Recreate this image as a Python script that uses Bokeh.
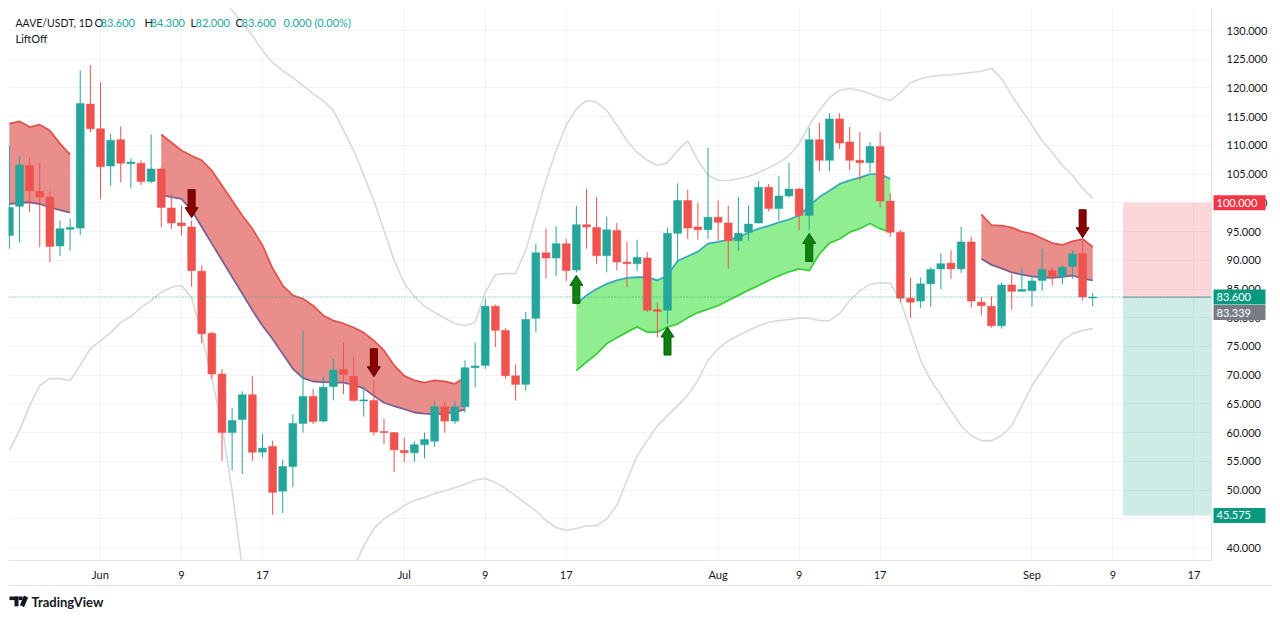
import numpy as np
import pandas as pd
from bokeh.plotting import figure
from bokeh.models import (Range1d, FixedTicker, SingleIntervalTicker, PrintfTickFormatter,
                          Label, Span, BoxAnnotation)
from bokeh.embed import file_html
from bokeh.resources import INLINE
from bokeh.core.properties import value

# ---------------- data ----------------
first_day = "2022-05-23"
opens = [94.3, 99.4, 106.5, 102.0, 101.0, 92.5, 95.4, 95.6, 117.2, 112.9,
         106.4, 111.0, 106.8, 106.9, 103.7, 105.9, 99.1, 96.5, 95.8, 88.1,
         77.3, 70.2, 60.0, 62.3, 66.6, 56.6, 57.6, 49.8, 54.1, 61.6,
         66.3, 62.0, 68.0, 71.0, 69.8, 65.5, 65.6, 60.2, 60.0, 56.9,
         56.5, 57.9, 58.5, 64.5, 62.0, 64.5, 71.3, 71.7, 82.0, 77.8,
         69.9, 68.4, 79.9, 91.3, 90.4, 92.9, 88.3, 96.2, 95.7, 90.8,
         95.2, 89.7, 89.4, 90.4, 81.4, 81.3, 94.7, 100.4, 95.8, 95.3,
         97.5, 96.5, 93.4, 94.9, 96.5, 102.7, 99.0, 101.2, 102.4, 97.8,
         111.0, 107.4, 114.6, 110.6, 107.4, 107.0, 109.8, 100.3, 94.9, 83.4,
         82.9, 85.9, 88.5, 89.5, 88.5, 93.2, 82.7, 82.0, 78.6, 85.7,
         84.6, 84.7, 86.5, 88.2, 87.2, 88.9, 91.2, 83.6]
highs = [110.0, 108.2, 107.9, 107.0, 102.1, 96.9, 97.2, 123.0, 124.0, 121.0,
         112.0, 113.3, 107.7, 107.4, 111.9, 106.2, 101.6, 99.5, 96.9, 89.1,
         77.6, 71.1, 64.3, 67.2, 69.8, 59.8, 58.6, 55.3, 63.2, 77.9,
         67.6, 69.8, 72.8, 75.7, 73.2, 67.8, 69.2, 62.4, 60.1, 59.1,
         58.5, 60.0, 65.5, 65.3, 65.5, 72.6, 75.7, 83.3, 82.3, 78.2,
         71.9, 81.0, 92.9, 95.5, 95.9, 93.7, 99.5, 102.4, 101.0, 97.6,
         96.5, 93.2, 93.6, 91.4, 82.7, 95.7, 103.4, 102.3, 100.0, 109.6,
         100.4, 99.5, 101.0, 99.5, 103.8, 103.3, 104.6, 106.9, 102.6, 113.1,
         113.9, 115.6, 115.6, 113.2, 112.3, 110.6, 112.3, 101.7, 95.3, 86.9,
         87.0, 88.8, 91.2, 91.8, 95.8, 94.1, 83.6, 83.7, 86.2, 87.6,
         88.8, 87.3, 92.0, 88.7, 89.1, 91.7, 93.4, 84.3]
lows = [92.0, 93.1, 98.4, 92.3, 89.7, 90.7, 91.7, 94.4, 112.3, 100.7,
        103.0, 103.6, 102.5, 103.1, 103.4, 95.8, 95.5, 94.3, 85.4, 75.6,
        69.4, 55.1, 53.4, 52.8, 55.1, 55.7, 45.7, 46.0, 50.5, 60.0,
        61.5, 61.8, 65.6, 66.7, 65.4, 62.8, 59.5, 58.0, 53.1, 54.9,
        54.9, 55.5, 57.5, 60.0, 61.5, 63.5, 67.9, 71.1, 74.9, 69.4,
        65.6, 67.3, 77.5, 86.8, 87.3, 86.4, 87.9, 92.0, 89.4, 87.9,
        88.2, 85.3, 88.1, 81.0, 76.6, 78.9, 89.9, 93.7, 93.6, 93.7,
        93.4, 88.5, 91.6, 93.4, 96.4, 98.5, 96.9, 100.9, 95.2, 95.2,
        105.5, 105.5, 109.4, 105.7, 103.9, 105.3, 99.2, 94.1, 82.7, 80.0,
        81.7, 81.9, 85.0, 86.8, 87.8, 81.8, 80.4, 78.3, 78.1, 81.4,
        84.5, 82.0, 84.7, 85.6, 85.8, 86.8, 83.0, 82.0]
closes = [99.2, 106.6, 102.1, 101.0, 92.4, 95.5, 95.7, 117.3, 112.9, 106.3,
          110.9, 106.9, 107.1, 103.7, 105.9, 99.2, 96.5, 96.0, 88.2, 77.2,
          70.2, 60.0, 62.1, 66.6, 56.6, 57.3, 49.6, 54.1, 61.6, 66.3,
          61.9, 67.9, 70.9, 70.1, 65.6, 65.7, 60.1, 60.0, 57.0, 56.5,
          57.9, 58.8, 64.5, 62.0, 64.5, 71.3, 71.6, 82.0, 77.8, 69.9,
          68.4, 79.7, 91.3, 90.4, 92.9, 88.2, 96.2, 95.8, 90.8, 95.3,
          89.7, 89.4, 90.5, 81.3, 81.1, 94.7, 100.4, 95.6, 95.3, 97.5,
          96.6, 93.4, 94.7, 96.3, 102.7, 99.0, 101.2, 102.4, 97.8, 111.0,
          107.4, 114.6, 110.4, 107.4, 107.0, 109.8, 100.3, 94.9, 83.4, 82.7,
          85.9, 88.4, 89.4, 88.5, 93.2, 82.9, 82.1, 78.6, 85.7, 84.6,
          84.9, 86.4, 88.4, 87.2, 88.8, 91.1, 83.6, 83.6]

N = None
bb_upper = [N, N, N, N, N, N, N, N, N, N,
            N, N, N, N, N, N, N, N, N, N,
            N, 135.5, 133.5, 131.4, 129.1, 126.5, 124.4, 123.0, 121.8, 120.4,
            119.0, 117.8, 116.1, 112.6, 109.1, 104.8, 100.4, 95.2, 90.0, 86.0,
            83.7, 82.0, 80.9, 79.9, 79.0, 78.6, 79.2, 84.4, 87.5, 87.7,
            87.7, 91.7, 97.8, 103.9, 109.1, 113.5, 116.4, 117.8, 117.5, 116.1,
            113.5, 110.8, 108.8, 107.4, 106.5, 107.0, 109.1, 110.8, 107.4, 104.8,
            103.9, 103.9, 104.2, 104.6, 105.3, 106.1, 107.0, 108.2, 110.3, 113.5,
            116.1, 118.3, 119.6, 119.9, 119.6, 119.0, 118.3, 117.8, 119.2, 120.9,
            121.6, 122.0, 122.2, 122.3, 122.5, 122.7, 122.9, 123.4, 121.6, 118.7,
            116.1, 113.5, 110.8, 108.8, 106.5, 104.8, 102.5, 100.8]
bb_lower = [56.9, 60.4, 64.7, 68.2, 69.4, 69.4, 69.1, 71.7, 74.6, 76.0,
            77.4, 79.2, 80.2, 81.8, 83.0, 84.4, 85.3, 85.6, 83.5, 76.9,
            69.4, 61.2, 49.9, 36.5, N, N, N, N, N, N,
            N, N, N, N, 36.5, 40.3, 43.3, 45.0, 46.1, 47.3,
            48.2, 48.7, 49.4, 49.9, 50.4, 51.0, 51.7, 52.0, 51.3, 50.3,
            49.0, 47.7, 46.4, 44.7, 43.5, 43.0, 43.3, 43.8, 43.8, 45.0,
            47.3, 51.7, 56.0, 58.6, 61.2, 63.0, 64.7, 66.5, 69.1, 72.6,
            74.6, 76.0, 76.9, 77.8, 78.6, 79.2, 79.5, 79.7, 79.9, 79.9,
            79.5, 79.5, 80.7, 83.0, 84.7, 85.8, 86.1, 86.0, 83.0, 77.8,
            72.6, 69.1, 66.5, 63.8, 61.2, 59.5, 58.6, 58.6, 59.5, 61.2,
            64.7, 68.2, 70.8, 73.4, 76.0, 77.2, 77.8, 78.1]

# LiftOff ribbons: (first day, upper edge, lower edge)
red1_start = "2022-05-23"
red1_top = [113.8, 114.2, 113.2, 113.6, 112.6, 110.3, 108.4]
red1_bot = [99.8, 100.0, 100.1, 99.8, 99.2, 98.75, 98.3]
red2_start = "2022-06-07"
red2_top = [111.9, 110.5, 109.1, 108.2, 107.4, 105.6, 103.0, 100.4, 97.8, 95.5,
            92.6, 88.6, 85.6, 83.9, 83.3, 82.1, 80.4, 79.5, 79.0, 78.3,
            77.4, 76.0, 74.3, 71.7, 69.9, 69.1, 68.7, 69.1, 68.9, 68.5, 69.6]
red2_bot = [101.4, 101.0, 100.7, 98.7, 95.8, 92.9, 90.0, 87.1, 84.2, 81.3,
            78.6, 76.3, 73.7, 71.1, 69.5, 68.9, 68.8, 68.7, 68.7, 68.3,
            67.7, 66.4, 65.2, 64.6, 64.1, 63.5, 63.3, 63.2, 63.3, 63.6, 64.0]
green_start = "2022-07-18"
green_top = [82.4, 83.9, 85.0, 85.9, 86.5, 86.95, 87.05, 87.05, 86.5, 87.35,
             89.9, 90.7, 91.5, 92.9, 93.2, 93.6, 94.0, 94.8, 95.5, 96.0,
             96.6, 97.1, 97.8, 99.5, 101.0, 102.1, 103.3, 103.9, 104.4, 105.0,
             105.0, 104.2]
green_bot = [70.8, 72.3, 73.7, 75.5, 76.5, 77.5, 78.4, 77.5, 77.5, 78.4,
             78.9, 80.0, 80.9, 81.5, 82.1, 83.0, 83.9, 84.8, 85.6, 86.5,
             87.3, 88.0, 88.5, 88.2, 91.1, 93.0, 93.7, 94.9, 95.5, 96.4,
             95.5, 94.9]
red3_start = "2022-08-27"
red3_top = [98.0, 96.1, 96.05, 95.7, 95.0, 94.6, 93.8, 93.0, 92.7, 93.3, 93.7, 92.3]
red3_bot = [90.25, 89.2, 88.6, 87.9, 87.5, 87.2, 87.0, 86.95, 87.1, 87.35, 86.8, 86.5]

down_signals = ["2022-06-10", "2022-06-28", "2022-09-06"]
up_signals = ["2022-07-18", "2022-07-27", "2022-08-10"]

tick_dates = ["2022-06-01", "2022-06-09", "2022-06-17", "2022-07-01", "2022-07-09",
              "2022-07-17", "2022-08-01", "2022-08-09", "2022-08-17", "2022-09-01",
              "2022-09-09", "2022-09-17"]
tick_labels = ["Jun", "9", "17", "Jul", "9", "17", "Aug", "9", "17", "Sep", "9", "17"]

symbol = "AAVE/USDT, 1D"
indicator_name = "LiftOff"
hdr_o, hdr_h, hdr_l, hdr_c = "83.600", "84.300", "82.000", "83.600"
hdr_change = "0.000 (0.00%)"
brand = "TradingView"
last_price = 83.600
position_start = "2022-09-10"
stop_price = 100.000
entry_price = 83.600
target_price = 45.575
avg_price = 83.339

# ---------------- helpers ----------------
REF = pd.Timestamp("2022-06-01")


def day(s):
    return (pd.Timestamp(s) - REF).days


def run(start, n):
    d0 = day(start)
    return [d0 + i for i in range(n)]


o = np.array(opens); h = np.array(highs); l = np.array(lows); c = np.array(closes)
xs = np.array(run(first_day, len(opens)), dtype=float)

UP = "#26a69a"
DN = "#ef5350"
TXT = "#131722"
FONT = "Lato"

LEFT_PAD, TOP_PAD = 8, 8          # frame origin on the page
FW, FH = 1203, 552
X0, X1 = -9.086, 109.73
Y0, Y1 = 37.74, 133.83
PXX = FW / (X1 - X0)
PXY = FH / (Y1 - Y0)


def page_x(px):   # page pixel -> data x
    return X0 + (px - LEFT_PAD) / PXX


def page_y(py):   # page pixel -> data y
    return Y1 - (py - TOP_PAD) / PXY


p = figure(frame_width=FW, frame_height=FH, x_range=Range1d(X0, X1), y_range=Range1d(Y0, Y1),
           output_backend="svg", toolbar_location=None, y_axis_location="right",
           min_border_left=LEFT_PAD, min_border_top=TOP_PAD, min_border_right=61,
           min_border_bottom=49, background_fill_color="white", border_fill_color="white",
           outline_line_color=None)

tick_x = [float(day(t)) for t in tick_dates]
p.xaxis.ticker = FixedTicker(ticks=tick_x)
p.xaxis.major_label_overrides = {tx: lab for tx, lab in zip(tick_x, tick_labels)}
p.xgrid.ticker = FixedTicker(ticks=tick_x)
p.yaxis.ticker = SingleIntervalTicker(interval=5)
p.ygrid.ticker = SingleIntervalTicker(interval=5)
p.yaxis.formatter = PrintfTickFormatter(format="%.3f")
for ax in (p.xaxis[0], p.yaxis[0]):
    ax.major_tick_line_color = None
    ax.minor_tick_line_color = None
    ax.major_tick_out = 0
    ax.major_tick_in = 0
    ax.axis_line_color = "#e0e3eb"
    ax.major_label_text_font = FONT
    ax.major_label_text_font_size = "11px"
    ax.major_label_text_color = TXT
p.xaxis.major_label_standoff = 7
p.yaxis.major_label_standoff = 11
p.xgrid.grid_line_color = "#f0f3fa"
p.ygrid.grid_line_color = "#f0f3fa"

# Bollinger-style envelopes
up_arr = np.array([np.nan if v is None else v for v in bb_upper], dtype=float)
lo_arr = np.array([np.nan if v is None else v for v in bb_lower], dtype=float)
p.line(xs, up_arr, line_color="#d9d9d9", line_width=1.6)
p.line(xs, lo_arr, line_color="#d9d9d9", line_width=1.6)

# LiftOff ribbons
RED_FILL = "#ea8e8b"
for start, top, bot in ((red1_start, red1_top, red1_bot), (red2_start, red2_top, red2_bot),
                        (red3_start, red3_top, red3_bot)):
    bx = run(start, len(top))
    p.varea(x=bx, y1=bot, y2=top, fill_color=RED_FILL, fill_alpha=1.0)
    p.line(bx, top, line_color="#e0534f", line_width=1.8)
    p.line(bx, bot, line_color="#7a6296", line_width=1.8)
gx = run(green_start, len(green_top))
p.varea(x=gx, y1=green_bot, y2=green_top, fill_color="#90ee90", fill_alpha=1.0)
p.line(gx, green_top, line_color="#3aa9c0", line_width=1.8)
p.line(gx, green_bot, line_color="#3fcc3f", line_width=1.8)

# position tool (drawn under the candles)
ps = float(day(position_start))
p.add_layout(BoxAnnotation(left=ps, bottom=entry_price, top=stop_price, fill_color="#f23645",
                           fill_alpha=0.2, line_color=None, level="underlay"))
p.add_layout(BoxAnnotation(left=ps, bottom=target_price, top=entry_price, fill_color="#089981",
                           fill_alpha=0.2, line_color=None, level="underlay"))
p.segment([ps], [entry_price], [X1], [entry_price], line_color="#9aa0ab", line_width=1.2)

# candles
inc = c >= o
cols = np.where(inc, UP, DN)
p.segment(xs, h, xs, l, line_color=list(cols), line_width=1)
body_top = np.maximum(o, c)
body_bot = np.minimum(o, c)
body_bot = np.where(body_top - body_bot < 1.0 / PXY, body_top - 1.0 / PXY, body_bot)
p.vbar(x=xs, width=0.78, top=body_top, bottom=body_bot, fill_color=list(cols), line_color=list(cols),
       line_width=0.5)

# signal arrows (tip just beyond the candle extreme)
shape = [(0, 0), (6.5, 10), (3.5, 10), (3.5, 28), (-3.5, 28), (-3.5, 10), (-6.5, 10)]
ax_list, ay_list = [], []
for s in down_signals:
    i = list(xs).index(float(day(s)))
    tip = h[i] + 3 / PXY
    ax_list.append([xs[i] + dx / PXX for dx, dy in shape])
    ay_list.append([tip + dy / PXY for dx, dy in shape])
p.patches(ax_list, ay_list, fill_color="#8b0000", line_color="#5c0000", line_width=1)
gx_list, gy_list = [], []
for s in up_signals:
    i = list(xs).index(float(day(s)))
    tip = l[i] - 3 / PXY
    gx_list.append([xs[i] + dx / PXX for dx, dy in shape])
    gy_list.append([tip - dy / PXY for dx, dy in shape])
p.patches(gx_list, gy_list, fill_color="#0d800d", line_color="#086008", line_width=1)

# last price line
p.add_layout(Span(location=last_price, dimension="width", line_color=UP, line_width=1,
                  line_dash="1 2"))


# header texts (inside the frame)
def scr_label(px, py, text, color=TXT, size="11px"):
    p.add_layout(Label(x=px - LEFT_PAD, y=FH - (py - TOP_PAD), x_units="screen", y_units="screen",
                       text=text, text_color=color, text_font=FONT, text_font_size=size,
                       text_baseline="middle", text_align="left"))


scr_label(15, 22, symbol, size="10.5px")
scr_label(94, 22, "O"); scr_label(100, 22, hdr_o, UP)
scr_label(144, 22, "H"); scr_label(150, 22, hdr_h, UP)
scr_label(190, 22, "L"); scr_label(195, 22, hdr_l, UP)
scr_label(235, 22, "C"); scr_label(241, 22, hdr_c, UP)
scr_label(283, 22, hdr_change, UP)
scr_label(15, 38, indicator_name)

# price tags on the right scale (overlay level so they can sit on the scale)
tag_prices = [stop_price, last_price, last_price - 15.5 / PXY, target_price]
tag_texts = ["%.3f" % stop_price, "%.3f" % last_price, "%.3f" % avg_price, "%.3f" % target_price]
tag_cols = ["#f23645", "#089981", "#787b86", "#089981"]
tag_cx = page_x(1239)
p.rect(x=[tag_cx] * 4, y=tag_prices, width=52, height=15, width_units="screen",
       height_units="screen", fill_color=tag_cols, line_color=None, level="overlay")
p.text(x=[page_x(1216)] * 4, y=tag_prices, text=tag_texts, text_color="white",
       text_font=value(FONT), text_font_size="11px", text_baseline="middle", text_align="left",
       level="overlay")

# bottom border of the time scale
p.rect(x=[page_x(640)], y=[page_y(585)], width=1264, height=1, width_units="screen",
       height_units="screen", fill_color="#e0e3eb", line_color=None, level="overlay")

# TradingView brand mark (built from small blocks) + name below the time scale
mk_x = [page_x(13.5), page_x(16), page_x(20.3), page_x(23.5)]
mk_y = [page_y(597.8), page_y(601), page_y(597.8), page_y(600.8)]
mk_w = [9, 4, 3.6, 4.6]
mk_h = [3.6, 9.6, 3.6, 10.4]
mk_a = [0.0, 0.0, 0.0, -0.4]
p.rect(x=mk_x, y=mk_y, width=mk_w, height=mk_h, angle=mk_a, width_units="screen",
       height_units="screen", fill_color=TXT, line_color=None, level="overlay")
p.text(x=[page_x(31)], y=[page_y(601)], text=[brand], text_color=TXT, text_font=value(FONT),
       text_font_size="13px", text_font_style="bold", text_baseline="middle", text_align="left",
       level="overlay")

open("out.html", "w").write(file_html(p, INLINE))
